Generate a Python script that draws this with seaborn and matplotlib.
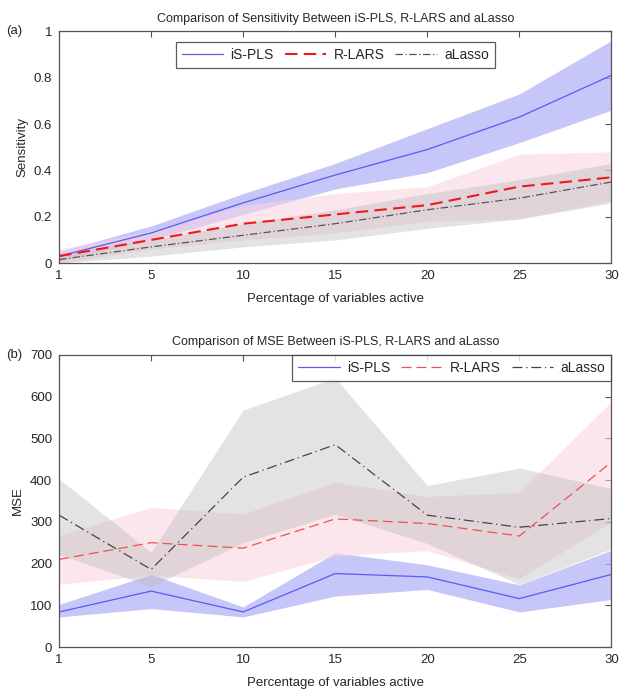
import numpy as np
import pandas as pd
import matplotlib
matplotlib.use("Agg")
import matplotlib.pyplot as plt
import seaborn as sns

# percentage of variables active (shown at equal spacing)
pct = ["1", "5", "10", "15", "20", "25", "30"]

# (a) sensitivity
sens_ispls = [0.03, 0.13, 0.26, 0.38, 0.49, 0.63, 0.81]
sens_ispls_lo = [0.01, 0.10, 0.21, 0.32, 0.39, 0.52, 0.66]
sens_ispls_hi = [0.05, 0.16, 0.30, 0.43, 0.58, 0.73, 0.96]
sens_rlars = [0.03, 0.10, 0.17, 0.21, 0.25, 0.33, 0.37]
sens_rlars_lo = [0.00, 0.06, 0.10, 0.13, 0.18, 0.19, 0.27]
sens_rlars_hi = [0.06, 0.14, 0.25, 0.30, 0.33, 0.47, 0.48]
sens_alasso = [0.015, 0.07, 0.12, 0.17, 0.23, 0.28, 0.35]
sens_alasso_lo = [0.00, 0.03, 0.07, 0.10, 0.15, 0.19, 0.26]
sens_alasso_hi = [0.04, 0.10, 0.17, 0.23, 0.30, 0.36, 0.43]

# (b) MSE
mse_ispls = [84, 134, 84, 176, 168, 116, 174]
mse_ispls_lo = [72, 92, 72, 122, 138, 84, 114]
mse_ispls_hi = [102, 174, 96, 226, 197, 149, 232]
mse_rlars = [210, 250, 237, 307, 296, 266, 443]
mse_rlars_lo = [150, 172, 157, 218, 231, 164, 300]
mse_rlars_hi = [267, 335, 319, 395, 361, 371, 588]
mse_alasso = [316, 186, 407, 485, 316, 287, 308]
mse_alasso_lo = [222, 145, 250, 318, 248, 150, 235]
mse_alasso_hi = [403, 227, 568, 645, 387, 429, 380]

sns.set_style("white")
plt.rcParams["font.family"] = ["Liberation Sans", "DejaVu Sans"]

fig = plt.figure(figsize=(6.22, 6.96), dpi=100)
ax1 = fig.add_axes([0.095, 0.622, 0.888, 0.333])
ax2 = fig.add_axes([0.095, 0.0704, 0.888, 0.4196])

pos = np.arange(len(pct))

def panel(ax, series, bands, line_cols, styles, widths, ylim, yticks, yfmt, ylabel, title, tag, legend_kw):
    band_cols = [("#b4b4f7", 0.75), ("#fbd3e0", 0.55), ("#bdbdbd", 0.42)]
    for (lo, hi), (c, a) in zip(bands, band_cols):
        ax.fill_between(pos, lo, hi, color=c, alpha=a, linewidth=0)
    names = ["iS-PLS", "R-LARS", "aLasso"]
    for name, vals, col, ls, lw in zip(names, series, line_cols, styles, widths):
        df = pd.DataFrame({"pos": pos, "val": vals})
        sns.lineplot(data=df, x="pos", y="val", ax=ax, color=col, linestyle=ls,
                     linewidth=lw, label=name)
    ax.set_xlim(0, len(pct) - 1)
    ax.set_ylim(*ylim)
    ax.set_xticks(pos)
    ax.set_xticklabels(pct)
    ax.set_yticks(yticks)
    ax.set_yticklabels([yfmt(v) for v in yticks])
    ax.tick_params(direction="in", top=True, right=True, length=4, width=0.8,
                   color="#555555", labelsize=9.5, pad=5)
    for s in ax.spines.values():
        s.set_color("#555555")
        s.set_linewidth(0.9)
    ax.set_xlabel("Percentage of variables active", fontsize=9.5, labelpad=8)
    ax.set_ylabel(ylabel, fontsize=9.5)
    ax.set_title(title, fontsize=9, pad=7)
    ax.text(-0.095, 1.0, tag, transform=ax.transAxes, fontsize=9.5, va="center", ha="left")
    leg = ax.legend(ncol=3, frameon=True, fancybox=False, fontsize=10,
                    handlelength=3.0, columnspacing=0.8, handletextpad=0.5,
                    borderpad=0.45, **legend_kw)
    leg.get_frame().set_edgecolor("#333333")
    leg.get_frame().set_linewidth(0.9)

panel(ax1,
      [sens_ispls, sens_rlars, sens_alasso],
      [(sens_ispls_lo, sens_ispls_hi), (sens_rlars_lo, sens_rlars_hi), (sens_alasso_lo, sens_alasso_hi)],
      ["#5a5af5", "#f01818", "#555555"],
      ["-", (0, (6, 3)), (0, (6, 2, 1, 2))],
      [0.9, 1.5, 0.9],
      (0, 1), [0, 0.2, 0.4, 0.6, 0.8, 1], lambda v: f"{v:g}",
      "Sensitivity", "Comparison of Sensitivity Between iS-PLS, R-LARS and aLasso", "(a)",
      dict(loc="upper center", bbox_to_anchor=(0.5, 0.985)))

panel(ax2,
      [mse_ispls, mse_rlars, mse_alasso],
      [(mse_ispls_lo, mse_ispls_hi), (mse_rlars_lo, mse_rlars_hi), (mse_alasso_lo, mse_alasso_hi)],
      ["#5a5af5", "#f05050", "#444444"],
      ["-", (0, (8, 4)), (0, (8, 3, 1, 3))],
      [0.9, 0.9, 0.9],
      (0, 700), list(range(0, 701, 100)), lambda v: f"{v}",
      "MSE", "Comparison of MSE Between iS-PLS, R-LARS and aLasso", "(b)",
      dict(loc="upper right", bbox_to_anchor=(1.0, 1.0), borderaxespad=0.0))

fig.savefig("out.png", dpi=100)
